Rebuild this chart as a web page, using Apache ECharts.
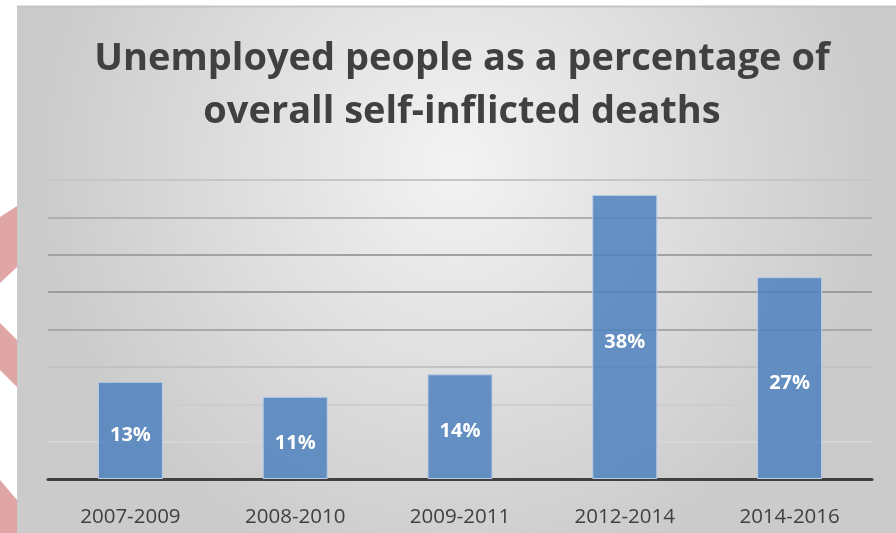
<!DOCTYPE html>
<html><head><meta charset="utf-8">
<script src="https://cdn.jsdelivr.net/npm/echarts@6/dist/echarts.min.js"></script>
<style>html,body{margin:0;padding:0;background:#fff}#c{width:896px;height:533px}</style>
</head><body><div id="c"></div>
<script>
var titleText = 'Unemployed people as a percentage of\noverall self-inflicted deaths';
var categories = ['2007-2009','2008-2010','2009-2011','2012-2014','2014-2016'];
var values = [13, 11, 14, 38, 27];
var yTicks = [0,5,10,15,20,25,30,35,40];

var chart = echarts.init(document.getElementById('c'), null, {renderer:'canvas'});
chart.setOption({
  animation:false,
  backgroundColor:'#ffffff',
  graphic:[
    {type:'rect', z:-10, shape:{x:17,y:7,width:879,height:526},
     style:{fill:new echarts.graphic.RadialGradient(0.5,0.3,0.8,[{offset:0,color:'#f3f3f3'},{offset:1,color:'#cbcbcb'}])}},
    {type:'line', z:-9, shape:{x1:17,y1:6.5,x2:896,y2:6.5}, style:{stroke:'#c4c4c4',lineWidth:2}},
    {type:'polygon', z:-9, shape:{points:[[0,217],[17,206],[17,267],[0,283]]}, style:{fill:'#e0a6a6'}},
    {type:'polygon', z:-9, shape:{points:[[0,323],[17,340],[17,387],[0,370]]}, style:{fill:'#e0a6a6'}},
    {type:'polygon', z:-9, shape:{points:[[0,480],[17,500],[17,533],[0,533]]}, style:{fill:'#e0a6a6'}}
  ],
  title:{text:titleText, left:457, top:28, textAlign:'center',
    textStyle:{fontFamily:'Open Sans', fontWeight:'bold', fontSize:38, color:'#404040', lineHeight:53}},
  grid:{left:48, right:24, top:180, bottom:54},
  xAxis:{type:'category', data:categories,
    axisLine:{lineStyle:{color:'#404040', width:3}},
    axisTick:{show:false},
    axisLabel:{fontFamily:'Open Sans', fontSize:20.5, color:'#404040', margin:28}},
  yAxis:{type:'value', min:yTicks[0], max:yTicks[yTicks.length-1], interval:5,
    axisLabel:{show:false}, axisLine:{show:false}, axisTick:{show:false},
    splitLine:{lineStyle:{width:2, color:['#404040','#d6d6d6','#cdcdcd','#c2c2c2','#a9a9a9','#9c9c9c','#a2a2a2','#b0b0b0','#c6c6c6']}}},
  series:[{type:'bar', data:values, barWidth:65,
    itemStyle:{color:'rgba(79,129,189,0.85)', borderColor:'#b8cce6', borderWidth:1},
    label:{show:true, position:'inside', offset:[0,5], formatter:'{c}%',
      fontFamily:'Open Sans', fontWeight:'bold', fontSize:20, color:'#ffffff'}}]
});
</script></body></html>
